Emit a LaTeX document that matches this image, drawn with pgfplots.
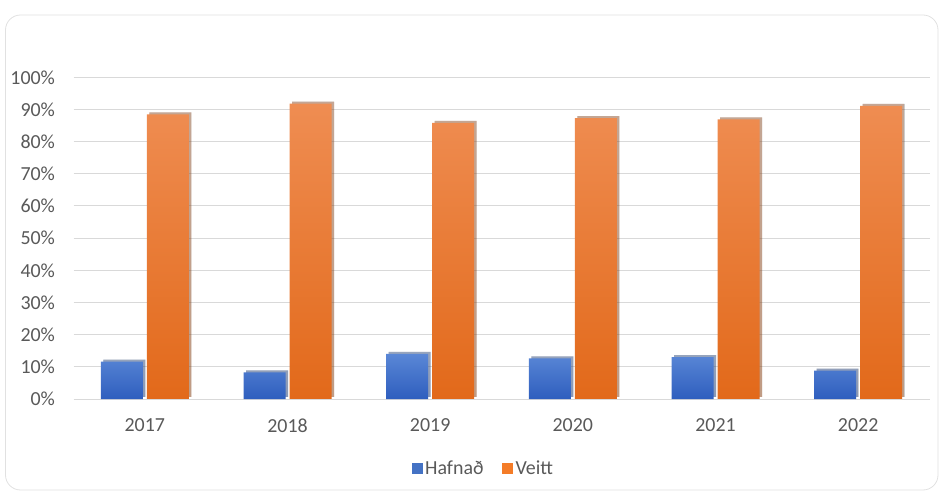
\documentclass[border=0pt]{standalone}
\usepackage{pgfplots}
\pgfplotsset{compat=1.18}
\usepackage{fontspec}
\setmainfont{Carlito}
\usetikzlibrary{shadows}

\definecolor{txt}{HTML}{595959}
\definecolor{gridc}{HTML}{D9D9D9}
\definecolor{bluetop}{HTML}{5A87D6}
\definecolor{bluebot}{HTML}{2E5EBE}
\definecolor{bluemid}{HTML}{4472C4}
\definecolor{orgtop}{HTML}{EF8D52}
\definecolor{orgmid}{HTML}{F47C28}
\definecolor{orgbot}{HTML}{E2691A}

\begin{document}
\begin{tikzpicture}
\path[use as bounding box] (0,0) rectangle (939bp,496bp);
\draw[draw=gridc!80, line width=0.8bp, rounded corners=15bp] (5.5bp,6bp) rectangle (938bp,481bp);
\begin{axis}[
  at={(73.5bp,97bp)}, anchor=south west,
  scale only axis, width=856bp, height=321.7bp,
  ybar, bar width=42bp,
  xmin=-0.5, xmax=5.5, ymin=0, ymax=100,
  xtick={0,...,5},
  xticklabels={2017,2018,2019,2020,2021,2022},
  ytick={0,10,...,100},
  yticklabel={\pgfmathprintnumber{\tick}\%},
  /pgf/number format/assume math mode=true,
  axis line style={draw=none},
  ymajorgrids, grid style={draw=gridc, line width=1bp},
  major tick length=0pt,
  tick label style={font=\fontsize{20}{24}\selectfont, text=txt},
  xticklabel style={yshift=-16bp},
  yticklabel style={xshift=-15bp},
  clip=false,
  legend columns=2,
  legend style={draw=none, fill=none, at={(0.479,-0.2145)}, anchor=center,
    font=\fontsize{20}{24}\selectfont, text=txt,
    /tikz/every even column/.append style={column sep=16bp},
    nodes={inner xsep=2.5bp}},
  legend cell align=left,
]
\addlegendimage{area legend, draw=none, fill=bluemid,
  legend image code/.code={\fill[bluemid] (0bp,-5.5bp) rectangle (11bp,5.5bp);}}
\addlegendentry{Hafnað}
\addlegendimage{area legend, draw=none, fill=orgmid,
  legend image code/.code={\fill[orgmid] (0bp,-5.5bp) rectangle (11bp,5.5bp);}}
\addlegendentry{Veitt}
% Hafnað (rejected), share per year
\addplot[forget plot, bar shift=-23bp, draw=none, top color=bluetop, bottom color=bluebot,
  drop shadow={shadow xshift=2.5bp, shadow yshift=2bp, fill=black, opacity=0.3}]
  coordinates {(0,11.6) (1,8.3) (2,14.0) (3,12.6) (4,13.0) (5,8.8)};
% Veitt (granted)
\addplot[forget plot, bar shift=23bp, draw=none, top color=orgtop, middle color=orgmid, bottom color=orgbot,
  drop shadow={shadow xshift=2.5bp, shadow yshift=2bp, fill=black, opacity=0.3}]
  coordinates {(0,88.5) (1,91.8) (2,85.8) (3,87.3) (4,86.9) (5,91.1)};
\end{axis}
\end{tikzpicture}
\end{document}
